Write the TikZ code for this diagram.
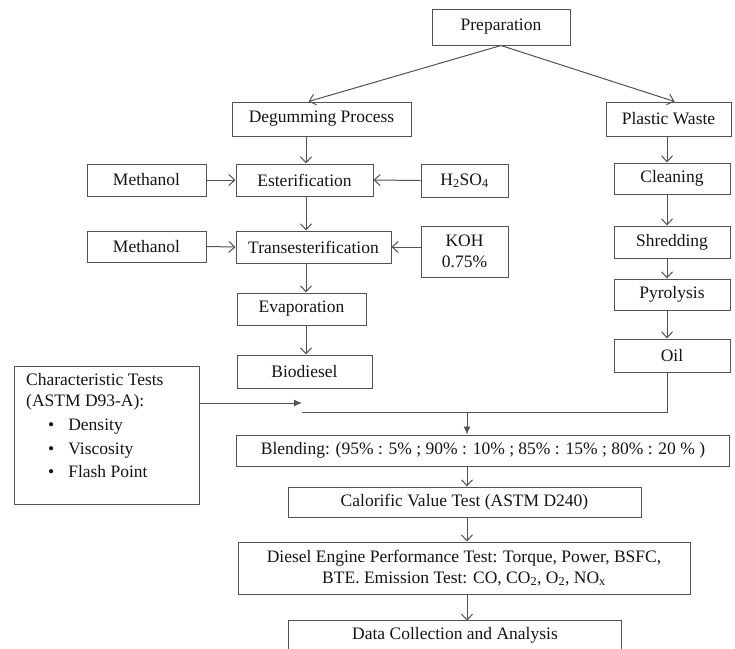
\documentclass[tikz,border=0pt]{standalone}
\usepackage{fontspec}
\setmainfont{Liberation Serif}
\usetikzlibrary{arrows.meta,calc}
\begin{document}
\begin{tikzpicture}[x=1pt,y=-1pt,
  font=\fontsize{17.5}{21}\selectfont,
  box/.style={draw=black!68, line width=1pt, inner sep=0pt, align=center, text=black!92},
  conn/.style={draw=black!68, line width=1pt},
  arr/.style={conn, -{Straight Barb[length=6pt,width=11pt]}},
  farr/.style={conn, -{Latex[length=8pt,width=7pt]}}]
\useasboundingbox (0,0) rectangle (735,648);
\coordinate (colL) at (306,0);
\coordinate (colR) at (667,0);
\coordinate (colM) at (467,0);
\coordinate (ct) at (302,403);
\coordinate (jl) at (302,412);
\coordinate (jm) at (467,412);

\node[box, minimum width=138, minimum height=36] (prep) at (501,27) {Preparation};
\node[box, minimum width=179, minimum height=34] (deg) at (321.5,119) {Degumming Process};
\node[box, minimum width=125, minimum height=34] (pw) at (668.5,119) {Plastic Waste};
\node[box, minimum width=119, minimum height=32] (m1) at (146.5,180) {Methanol};
\node[box, minimum width=137, minimum height=32] (est) at (304.5,180) {Esterification};
\node[box, minimum width=87, minimum height=33] (h2) at (464.5,180.5) {H\textsubscript{2}SO\textsubscript{4}};
\node[box, minimum width=119, minimum height=31] (m2) at (146.5,246.5) {Methanol};
\node[box, minimum width=155, minimum height=32] (trans) at (313.5,247) {Transesterification};
\node[box, minimum width=87, minimum height=51] (koh) at (464.5,251.5) {KOH\\0.75\%};
\node[box, minimum width=129, minimum height=32] (evap) at (301.5,309) {Evaporation};
\node[box, minimum width=135, minimum height=33] (bio) at (304.5,371.5) {Biodiesel};
\node[box, minimum width=116, minimum height=31] (clean) at (672,178.5) {Cleaning};
\node[box, minimum width=116, minimum height=32] (shred) at (672,242) {Shredding};
\node[box, minimum width=116, minimum height=31] (pyro) at (672,294.5) {Pyrolysis};
\node[box, minimum width=116, minimum height=33] (oil) at (672,355.5) {Oil};

\node[box, minimum width=185, minimum height=138] (char) at (106.5,435) {};
\node[anchor=north west, inner sep=0pt, align=left, text=black!92] (chartext) at (26,373)
  {Characteristic Tests\\(ASTM D93-A):\\[3pt]
   \hspace*{22pt}\textbullet\hspace{14pt}Density\\[3pt]
   \hspace*{22pt}\textbullet\hspace{14pt}Viscosity\\[2pt]
   \hspace*{22pt}\textbullet\hspace{14pt}Flash Point};

\node[box, minimum width=493, minimum height=31, anchor=west, inner xsep=11pt] (blend) at (236,450.5)
  {Blending: (95\% : 5\% ; 90\% : 10\% ; 85\% : 15\% ; 80\% : 20 \% )};
\node[box, minimum width=353, minimum height=30] (cal) at (464.5,502) {Calorific Value Test (ASTM D240)};
\node[box, minimum width=452, minimum height=52] (die) at (464,568)
  {Diesel Engine Performance Test: Torque, Power, BSFC,\\BTE. Emission Test: CO, CO\textsubscript{2}, O\textsubscript{2}, NO\textsubscript{x}};
\node[inner sep=0pt, minimum width=332, minimum height=28, text=black!92] (data) at (455,635) {Data Collection and Analysis};
\draw[conn] (data.south west) -- (data.north west) -- (data.north east) -- (data.south east);

% connectors
\draw[arr] (prep.south) -- ([xshift=-13pt]deg.north);
\draw[arr] (prep.south) -- ([xshift=6pt]pw.north);
\draw[arr] (colL |- deg.south) -- (colL |- est.north);
\draw[arr] (m1.east) -- (est.west);
\draw[arr] (h2.west) -- (est.east);
\draw[arr] (colL |- est.south) -- (colL |- trans.north);
\draw[arr] (m2.east) -- (trans.west);
\draw[arr] (koh.west |- trans.east) -- (trans.east);
\draw[arr] (colL |- trans.south) -- (colL |- evap.north);
\draw[arr] (colL |- evap.south) -- (colL |- bio.north);
\draw[arr] (colR |- pw.south) -- (colR |- clean.north);
\draw[arr] (colR |- clean.south) -- (colR |- shred.north);
\draw[arr] (colR |- shred.south) -- (colR |- pyro.north);
\draw[arr] (colR |- pyro.south) -- (colR |- oil.north);
\draw[conn] (colR |- oil.south) -- (colR |- jl) -- (jl);
\draw[farr] (char.east |- ct) -- (ct);
\draw[farr] (jm) -- (jm |- blend.north);
\draw[arr] (colM |- blend.south) -- (colM |- cal.north);
\draw[arr] (colM |- cal.south) -- (colM |- die.north);
\draw[arr] (colM |- die.south) -- (colM |- data.north);
\end{tikzpicture}
\end{document}
